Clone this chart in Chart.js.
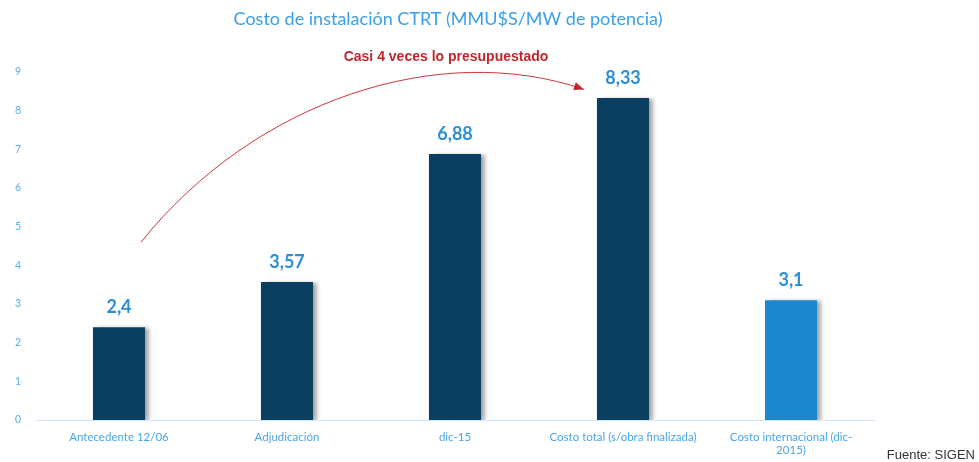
<!DOCTYPE html>
<html>
<head>
<meta charset="utf-8">
<script src="https://cdn.jsdelivr.net/npm/chart.js@4/dist/chart.umd.min.js"></script>
<style>
  html, body { margin: 0; padding: 0; background: #fff; }
  #wrap { width: 979px; height: 462px; position: relative; }
</style>
</head>
<body>
<div id="wrap"><canvas id="costChart"></canvas></div>
<script>
// Chart data
const categories = ['Antecedente 12/06', 'Adjudicación', 'dic-15', 'Costo total (s/obra finalizada)', ['Costo internacional (dic-', '2015)']];
const costValues = [2.4, 3.57, 6.88, 8.33, 3.1];
const barColors = ['#0b3f61', '#0b3f61', '#0b3f61', '#0b3f61', '#1c87cf'];
const yTicks = [0, 1, 2, 3, 4, 5, 6, 7, 8, 9];

const chartTitle = 'Costo de instalación CTRT (MMU$S/MW de potencia)';
const noteText = 'Casi 4 veces lo presupuestado';
const sourceText = 'Fuente: SIGEN';

// shadow behind bars
const barShadow = {
    id: 'barShadow',
    beforeDatasetDraw(chart) {
        const c = chart.ctx;
        c.save();
        c.shadowColor = 'rgba(0,0,0,0.35)';
        c.shadowBlur = 4;
        c.shadowOffsetX = 4;
        c.shadowOffsetY = 1;
    },
    afterDatasetDraw(chart) {
        chart.ctx.restore();
    }
};

// value labels, title, arrow and source
const extras = {
    id: 'extras',
    afterDatasetsDraw(chart) {
        const c = chart.ctx;
        const meta = chart.getDatasetMeta(0);
        c.save();
        c.fillStyle = '#2a8fd8';
        c.font = 'bold 18px Lato, "Open Sans", sans-serif';
        c.textAlign = 'center';
        c.textBaseline = 'bottom';
        meta.data.forEach((bar, i) => {
            c.fillText(String(costValues[i]).replace('.', ','), bar.x, bar.y - 11);
        });

        // title
        c.fillStyle = '#3a9fe6';
        c.font = '18px Lato, "Open Sans", sans-serif';
        c.textBaseline = 'middle';
        c.fillText(chartTitle, 448, 19);

        // note
        c.fillStyle = '#c0272d';
        c.font = 'bold 14px "Liberation Sans", Arial, sans-serif';
        c.fillText(noteText, 446, 57);

        // curved arrow from first category towards the fourth
        const xs = chart.scales.x, ys = chart.scales.y;
        const p0 = { x: xs.getPixelForValue(0) + 22, y: ys.getPixelForValue(4.6) };
        const p3 = { x: xs.getPixelForValue(3) - 39, y: ys.getPixelForValue(8.55) };
        const p1 = { x: 255, y: 100 };
        const p2 = { x: 440, y: 40 };
        c.strokeStyle = '#c8373c';
        c.lineWidth = 1;
        c.beginPath();
        c.moveTo(p0.x, p0.y);
        c.bezierCurveTo(p1.x, p1.y, p2.x, p2.y, p3.x, p3.y);
        c.stroke();
        // arrowhead
        const ang = Math.atan2(p3.y - p2.y, p3.x - p2.x);
        const len = 10, half = 4;
        const bx = p3.x - len * Math.cos(ang), by = p3.y - len * Math.sin(ang);
        c.fillStyle = '#c0272d';
        c.beginPath();
        c.moveTo(p3.x, p3.y);
        c.lineTo(bx - half * Math.sin(ang), by + half * Math.cos(ang));
        c.lineTo(bx + half * Math.sin(ang), by - half * Math.cos(ang));
        c.closePath();
        c.fill();

        // source
        c.fillStyle = '#333';
        c.font = '13px "Liberation Sans", Arial, sans-serif';
        c.textAlign = 'right';
        c.fillText(sourceText, 975, 455);
        c.restore();
    }
};

new Chart(document.getElementById('costChart'), {
    type: 'bar',
    data: {
        labels: categories,
        datasets: [{
            data: costValues,
            backgroundColor: barColors,
            barPercentage: 0.62,
            categoryPercentage: 0.5
        }]
    },
    options: {
        responsive: true,
        maintainAspectRatio: false,
        animation: false,
        layout: { padding: { top: 72, right: 104, left: 6, bottom: 0 } },
        plugins: {
            legend: { display: false },
            tooltip: { enabled: false }
        },
        scales: {
            x: {
                afterFit(axis) { axis.height = 42; },
                grid: { display: false, drawTicks: false },
                border: { color: '#d6e8f7', width: 1 },
                ticks: {
                    color: '#4aa5e8',
                    font: { size: 11.5, family: 'Lato, "Open Sans", sans-serif' },
                    padding: 10,
                    maxRotation: 0,
                    autoSkip: false
                }
            },
            y: {
                min: 0,
                max: 9,
                afterBuildTicks(axis) { axis.ticks = yTicks.map(v => ({ value: v })); },
                afterFit(axis) { axis.width = 29; },
                grid: { display: false, drawTicks: false },
                border: { display: false },
                ticks: {
                    color: '#5aaeea',
                    font: { size: 10.5, family: 'Lato, "Open Sans", sans-serif' },
                    padding: 14
                }
            }
        }
    },
    plugins: [barShadow, extras]
});
</script>
</body>
</html>
